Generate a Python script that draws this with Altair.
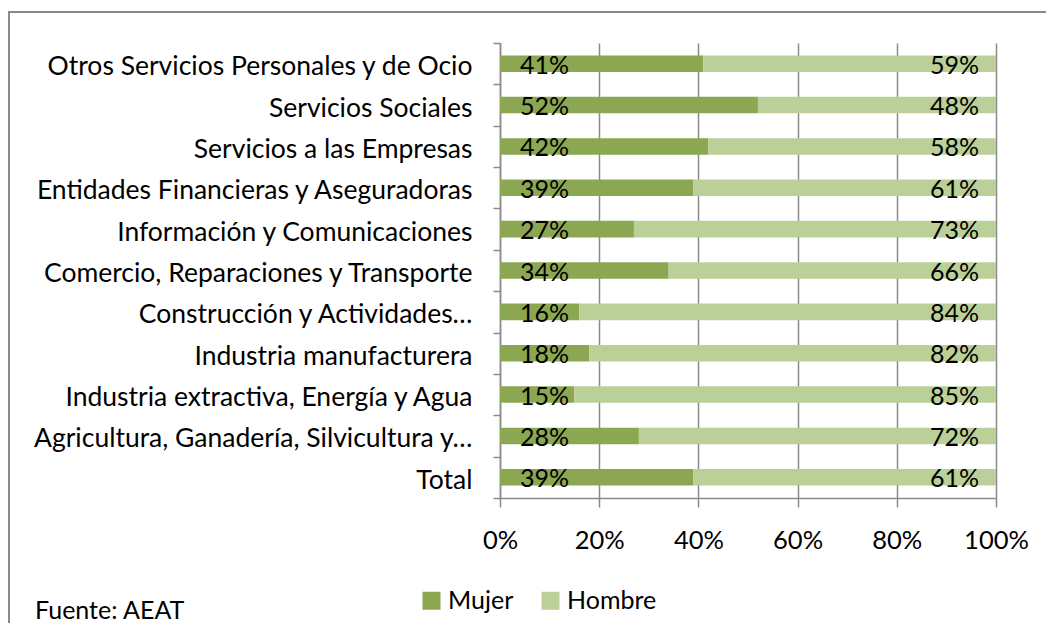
import altair as alt
import pandas as pd

categorias = [
    "Otros Servicios Personales y de Ocio",
    "Servicios Sociales",
    "Servicios a las Empresas",
    "Entidades Financieras y Aseguradoras",
    "Información y Comunicaciones",
    "Comercio, Reparaciones y Transporte",
    "Construcción y Actividades…",
    "Industria manufacturera",
    "Industria extractiva, Energía y Agua",
    "Agricultura, Ganadería, Silvicultura y…",
    "Total",
]
mujer = [41, 52, 42, 39, 27, 34, 16, 18, 15, 28, 39]
hombre = [59, 48, 58, 61, 73, 66, 84, 82, 85, 72, 61]
series = ["Mujer", "Hombre"]
colores = ["#8BA752", "#BBD098"]
x_ticks = [0, 0.2, 0.4, 0.6, 0.8, 1.0]

rows = []
for c, m, h in zip(categorias, mujer, hombre):
    rows.append({"cat": c, "serie": "Mujer", "orden": 0, "v": m / 100, "lab": f"{m}%"})
    rows.append({"cat": c, "serie": "Hombre", "orden": 1, "v": h / 100, "lab": f"{h}%"})
df = pd.DataFrame(rows)

FONT = "Lato"
GRAY = "#8a8a8a"

y_enc = alt.Y(
    "cat:N",
    sort=categorias,
    scale=alt.Scale(paddingInner=0, paddingOuter=0),
    axis=alt.Axis(
        title=None,
        tickBand="extent",
        tickSize=7,
        tickColor=GRAY,
        tickWidth=1.5,
        domainColor=GRAY,
        domainWidth=1.5,
        labelPadding=21,
        labelFontSize=26.5,
        labelFont=FONT,
        labelColor="#000",
        labelLimit=600,
        labelBaseline="alphabetic",
        labelOffset=11,
        grid=False,
    ),
)

bars = alt.Chart(df).mark_bar(height={"band": 0.4}).encode(
    y=y_enc,
    x=alt.X(
        "v:Q",
        stack="zero",
        scale=alt.Scale(domain=[0, 1], nice=False),
        axis=alt.Axis(
            title=None,
            values=x_ticks,
            format=".0%",
            tickSize=9,
            tickColor=GRAY,
            tickWidth=1.5,
            domainColor=GRAY,
            domainWidth=1.5,
            gridColor=GRAY,
            gridWidth=1.5,
            labelPadding=21,
            labelFontSize=25.5,
            labelFont=FONT,
            labelColor="#000",
            labelFlush=False,
        ),
    ),
    color=alt.Color(
        "serie:N",
        scale=alt.Scale(domain=series, range=colores),
        legend=alt.Legend(
            title=None,
            orient="none",
            direction="horizontal",
            legendX=-81,
            legendY=545,
            symbolType="square",
            symbolSize=324,
            symbolStrokeWidth=0,
            symbolOpacity=1,
            labelFont=FONT,
            labelFontSize=25,
            labelColor="#000",
            labelOffset=4,
            columnPadding=24,
        ),
    ),
    order=alt.Order("orden:Q"),
)

lab_m = alt.Chart(df[df.serie == "Mujer"]).mark_text(
    align="left", baseline="alphabetic", dy=10, fontSize=25, font=FONT, color="#000"
).encode(y=alt.Y("cat:N", sort=categorias), x=alt.value(20), text="lab:N")

lab_h = alt.Chart(df[df.serie == "Hombre"]).mark_text(
    align="right", baseline="alphabetic", dy=10, dx=-17, fontSize=25, font=FONT, color="#000"
).encode(y=alt.Y("cat:N", sort=categorias), x=alt.datum(1.0), text="lab:N")

fuente = alt.Chart(pd.DataFrame({"t": ["Fuente: AEAT"]})).mark_text(
    align="left", baseline="alphabetic", fontSize=25, font=FONT, color="#000"
).encode(x=alt.value(-465), y=alt.value(576), text="t:N")

marco = alt.Chart(pd.DataFrame({"a": [0]})).mark_rect(
    filled=False, stroke=GRAY, strokeWidth=2
).encode(x=alt.value(-491), x2=alt.value(700), y=alt.value(-31), y2=alt.value(700))

chart = (
    alt.layer(marco, bars, lab_m, lab_h, fuente)
    .properties(
        width=496,
        height=455,
        autosize=alt.AutoSizeParams(type="none"),
        padding={"left": 492, "top": 35, "right": 50, "bottom": 125},
    )
    .configure_view(stroke=None)
)

chart.save("out.html", embed_options={"renderer": "svg", "actions": False})
